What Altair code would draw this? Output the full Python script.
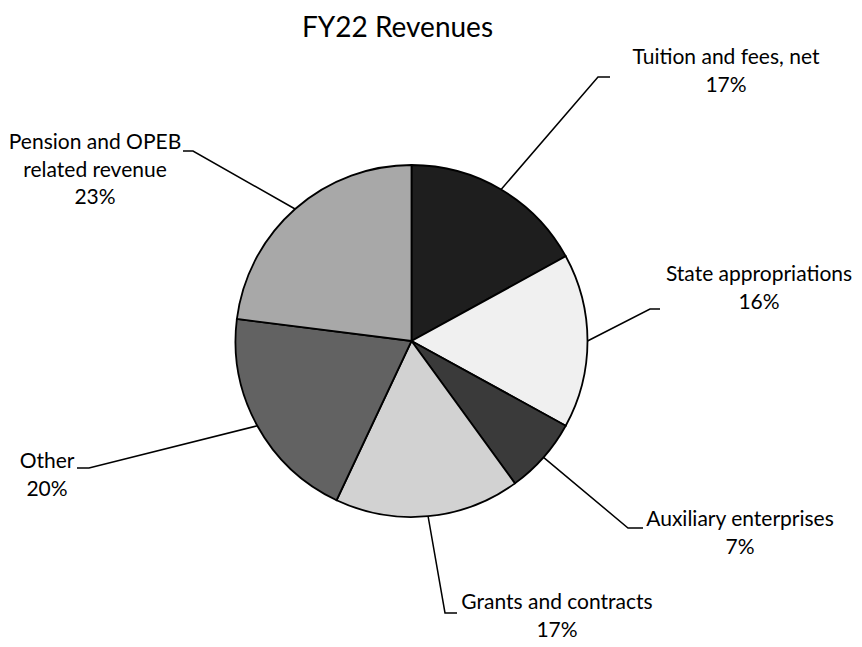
import math
import altair as alt
import pandas as pd

# ---------------- data ----------------
categories = [
    "Tuition and fees, net",
    "State appropriations",
    "Auxiliary enterprises",
    "Grants and contracts",
    "Other",
    "Pension and OPEB related revenue",
]
shares = [17, 16, 7, 17, 20, 23]
label_lines = [
    ["Tuition and fees, net"],
    ["State appropriations"],
    ["Auxiliary enterprises"],
    ["Grants and contracts"],
    ["Other"],
    ["Pension and OPEB", "related revenue"],
]
title_text = "FY22 Revenues"

# ---------------- styles / layout ----------------
fills = ["#1e1e1e", "#f0f0f0", "#3a3a3a", "#d2d2d2", "#626262", "#a8a8a8"]
OFF = 8  # page margin
CX, CY, R = 411.5 - OFF, 341 - OFF, 176
FONT = "Lato"
LABEL_SIZE = 21
LINE_GAP = 27.5
# label block centre x, first line y, elbow point, stub end (page pixels)
label_cx = [726, 759, 740, 557, 47, 95]
label_y1 = [58, 275, 520, 603, 462, 143]
elbow = [(598, 77), (650, 309), (628, 528), (445, 613), (89, 468), (193, 151)]
stub_end = [(610, 77), (660, 309), (643, 528), (457, 613), (77, 468), (183, 151)]

# ---------------- tables ----------------
pie_df = pd.DataFrame({"cat": categories, "share": shares, "idx": range(len(shares))})

total = sum(shares)
cum = 0
line_rows = []
text_rows = []
for i, (cat, s) in enumerate(zip(categories, shares)):
    mid = (cum + s / 2) / total * 2 * math.pi
    cum += s
    sx = CX + R * math.sin(mid)
    sy = CY - R * math.cos(mid)
    pts = [(sx, sy), (elbow[i][0] - OFF, elbow[i][1] - OFF), (stub_end[i][0] - OFF, stub_end[i][1] - OFF)]
    for k, (px, py) in enumerate(pts):
        line_rows.append({"cat": cat, "k": k, "px": px, "py": py})
    lines = label_lines[i] + [f"{round(s / total * 100)}%"]
    for j, t in enumerate(lines):
        text_rows.append({"px": label_cx[i] - OFF, "py": label_y1[i] - OFF + j * LINE_GAP, "t": t})

line_df = pd.DataFrame(line_rows)
text_df = pd.DataFrame(text_rows)
title_df = pd.DataFrame({"px": [397.5 - OFF], "py": [28.5 - OFF], "t": [title_text]})

# ---------------- chart ----------------
pie = alt.Chart(pie_df).mark_arc(outerRadius=R, stroke="black", strokeWidth=1.8).encode(
    theta=alt.Theta("share:Q", stack=True),
    color=alt.Color("cat:N", scale=alt.Scale(domain=categories, range=fills), legend=None),
    order=alt.Order("idx:Q", sort="ascending"),
    x=alt.value(CX),
    y=alt.value(CY),
)

leaders = alt.Chart(line_df).mark_line(color="black", strokeWidth=1.5).encode(
    x=alt.X("px:Q", scale=None, axis=None),
    y=alt.Y("py:Q", scale=None, axis=None),
    detail="cat:N",
    order="k:Q",
)

labels = alt.Chart(text_df).mark_text(
    font=FONT, fontSize=LABEL_SIZE, color="black", align="center", baseline="middle"
).encode(
    x=alt.X("px:Q", scale=None, axis=None),
    y=alt.Y("py:Q", scale=None, axis=None),
    text="t:N",
)

title = alt.Chart(title_df).mark_text(
    font=FONT, fontSize=28, color="black", align="center", baseline="middle"
).encode(
    x=alt.X("px:Q", scale=None, axis=None),
    y=alt.Y("py:Q", scale=None, axis=None),
    text="t:N",
)

chart = (
    alt.layer(pie, leaders, labels, title)
    .properties(width=846, height=631, padding=0, autosize=alt.AutoSizeParams(type="none"))
    .configure_view(stroke=None)
)

chart.save("out.html", embed_options={"renderer": "svg", "actions": False})
